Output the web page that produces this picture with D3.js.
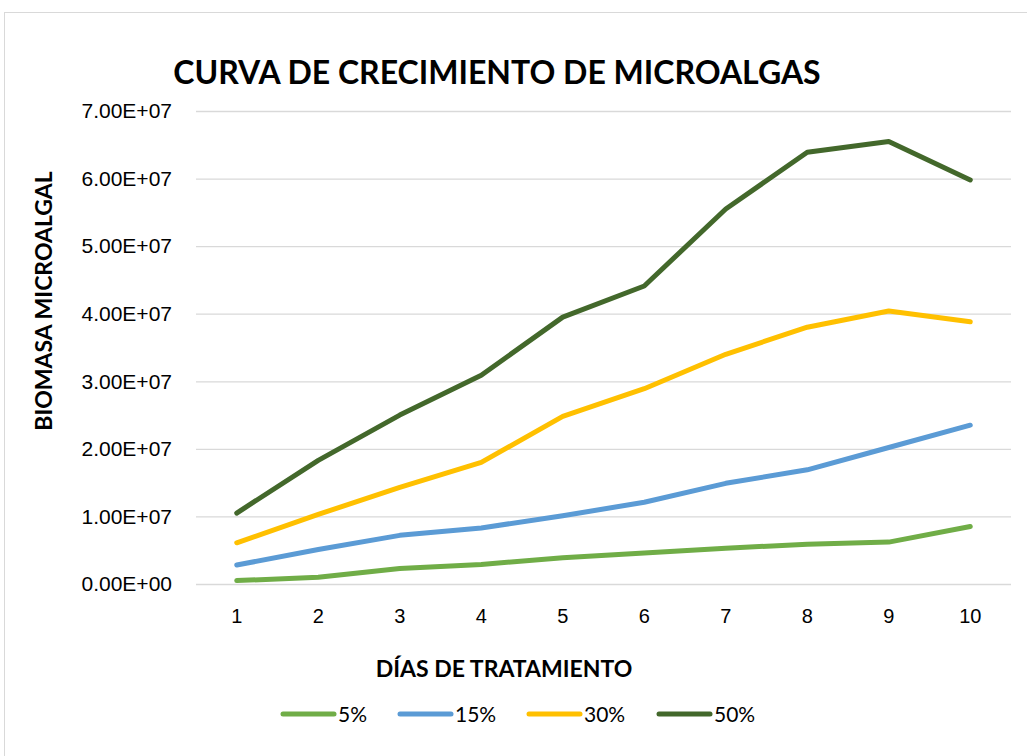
<!DOCTYPE html>
<html>
<head>
<meta charset="utf-8">
<script src="https://cdn.jsdelivr.net/npm/d3@7"></script>
<style>
  body { margin: 0; background: #fff; }
  svg { font-family: Lato, "Open Sans", sans-serif; }
</style>
</head>
<body>
<div id="container"></div>
<script>
const days = ["1", "2", "3", "4", "5", "6", "7", "8", "9", "10"];
const seriesNames = ["5%", "15%", "30%", "50%"];
const seriesColors = ["#70AD47", "#5B9BD5", "#FFC000", "#43682B"];
const yTicks = [0, 1e7, 2e7, 3e7, 4e7, 5e7, 6e7, 7e7];

const s5 = [0.05e7, 0.10e7, 0.23e7, 0.29e7, 0.39e7, 0.46e7, 0.53e7, 0.59e7, 0.62e7, 0.85e7];
const s15 = [0.28e7, 0.51e7, 0.72e7, 0.83e7, 1.01e7, 1.21e7, 1.49e7, 1.69e7, 2.02e7, 2.35e7];
const s30 = [0.61e7, 1.03e7, 1.43e7, 1.80e7, 2.48e7, 2.89e7, 3.40e7, 3.80e7, 4.04e7, 3.88e7];
const s50 = [1.05e7, 1.83e7, 2.50e7, 3.09e7, 3.95e7, 4.41e7, 5.55e7, 6.39e7, 6.55e7, 5.98e7];
const allSeries = [s5, s15, s30, s50];

const width = 1027, height = 756;
const margin = { top: 111, right: 16, bottom: 172, left: 196 };

const svg = d3.select("#container").append("svg")
    .attr("width", width)
    .attr("height", height);

// chart frame
svg.append("rect")
    .attr("x", 4.5).attr("y", 12.5)
    .attr("width", 1040).attr("height", 760)
    .attr("fill", "#fff")
    .attr("stroke", "#D9D9D9");

let x = d3.scaleBand()
    .domain(days)
    .range([margin.left, width - margin.right]);

let y = d3.scaleLinear()
    .domain([0, 7e7])
    .range([height - margin.bottom, margin.top]);

// gridlines + y labels
svg.append("g")
    .attr("transform", `translate(${margin.left},0)`)
    .call(d3.axisLeft(y).tickValues(yTicks)
        .tickSize(-(width - margin.left - margin.right))
        .tickFormat(d => d.toExponential(2).replace("e+", "E+0").toUpperCase()))
    .call(g => g.select(".domain").remove())
    .call(g => g.selectAll(".tick line").attr("stroke", "#D9D9D9").attr("stroke-width", 1.3))
    .call(g => g.selectAll(".tick text")
        .attr("x", -24)
        .attr("font-size", 21)
        .attr("fill", "#000"));

// x axis labels
svg.append("g")
    .attr("transform", `translate(0,${height - margin.bottom})`)
    .call(d3.axisBottom(x).tickSize(0).tickPadding(25))
    .call(g => g.select(".domain").remove())
    .call(g => g.selectAll(".tick text")
        .attr("font-size", 20)
        .attr("fill", "#000"));

let line = d3.line()
    .x((d, i) => x(days[i]) + x.bandwidth() / 2)
    .y(d => y(d));

svg.selectAll(".series")
    .data(allSeries)
    .enter()
    .append("path")
    .attr("class", "series")
    .attr("fill", "none")
    .attr("stroke", (d, i) => seriesColors[i])
    .attr("stroke-width", 5)
    .attr("stroke-linecap", "round")
    .attr("stroke-linejoin", "round")
    .attr("d", line);

// titles
svg.append("text")
    .attr("x", 497).attr("y", 84)
    .attr("text-anchor", "middle")
    .attr("font-size", 32)
    .attr("font-weight", "bold")
    .text("CURVA DE CRECIMIENTO DE MICROALGAS");

svg.append("text")
    .attr("x", 504).attr("y", 677)
    .attr("text-anchor", "middle")
    .attr("font-size", 23)
    .attr("font-weight", "bold")
    .text("DÍAS DE TRATAMIENTO");

svg.append("text")
    .attr("transform", "translate(52,301) rotate(-90)")
    .attr("text-anchor", "middle")
    .attr("font-size", 23)
    .attr("font-weight", "bold")
    .text("BIOMASA MICROALGAL");

// legend
const legendX = [281, 398, 527, 657];
let legend = svg.selectAll(".legend")
    .data(seriesNames)
    .enter()
    .append("g")
    .attr("class", "legend")
    .attr("transform", (d, i) => `translate(${legendX[i]},714)`);

legend.append("line")
    .attr("x1", 2).attr("x2", 53)
    .attr("stroke", (d, i) => seriesColors[i])
    .attr("stroke-width", 5)
    .attr("stroke-linecap", "round");

legend.append("text")
    .attr("x", 57).attr("y", 7.5)
    .attr("font-size", 21)
    .text(d => d);
</script>
</body>
</html>
